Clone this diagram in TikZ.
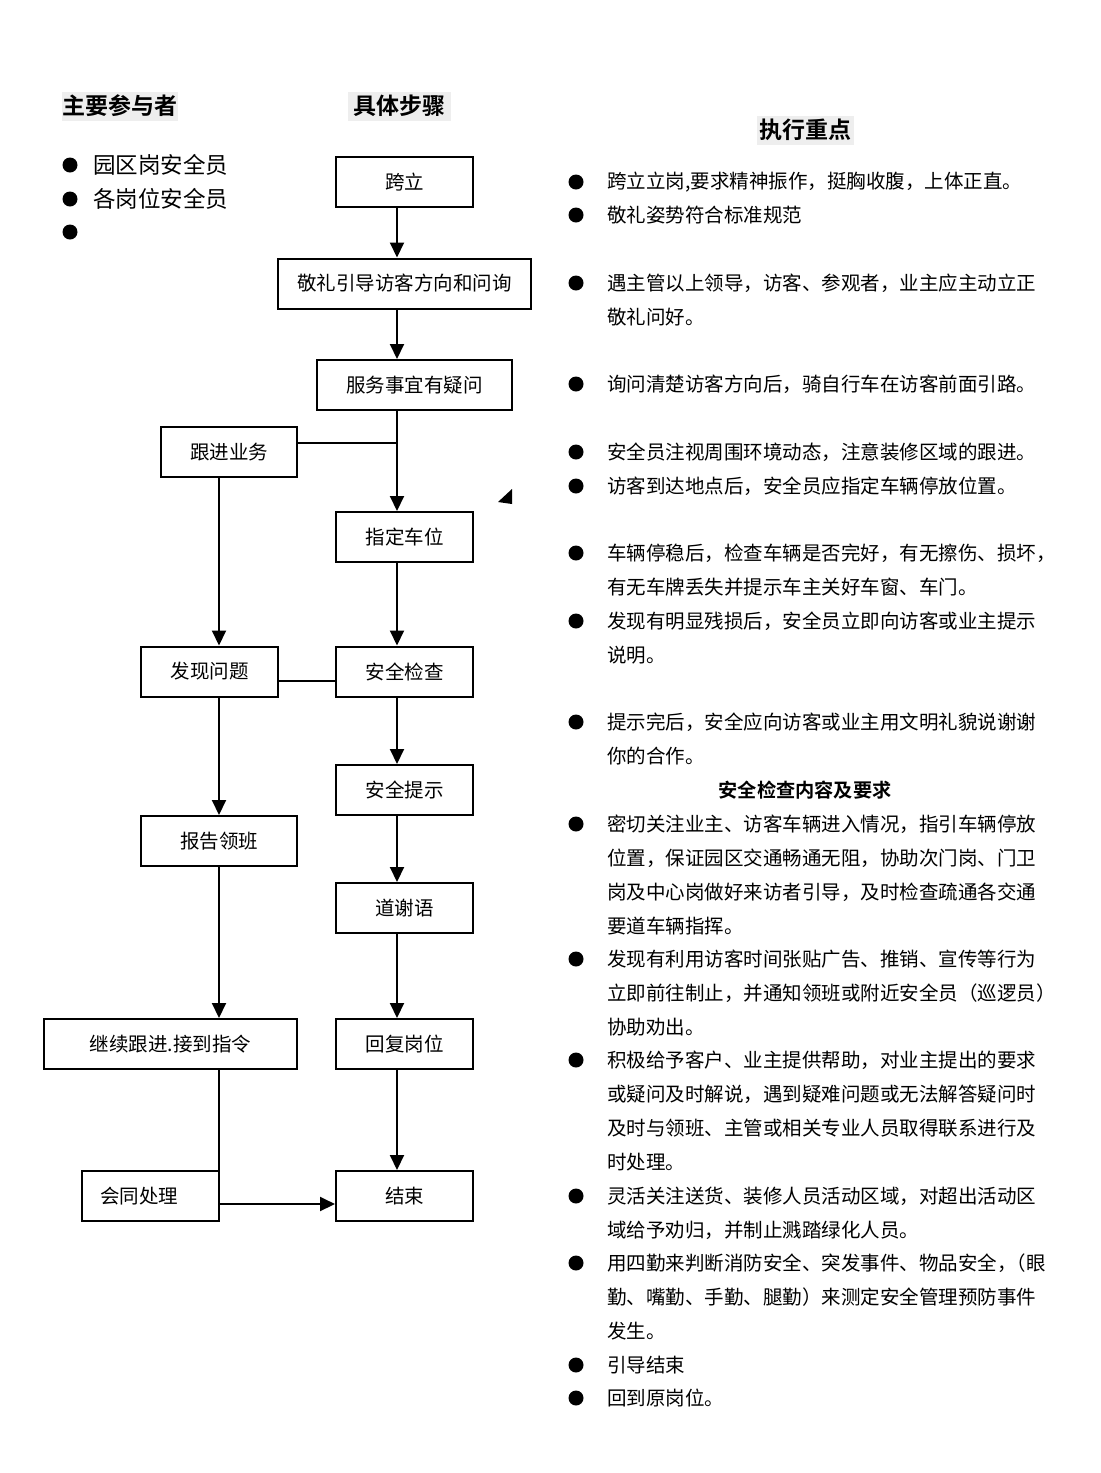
\documentclass[tikz,border=0pt]{standalone}
\usepackage{fontspec}
\newfontfamily\cjk{Noto Sans CJK SC}[BoldFont={Noto Sans CJK SC Bold}]
\usetikzlibrary{positioning}
\usetikzlibrary{arrows.meta}
\usetikzlibrary{math}

\tikzset{
  stepbox/.style={draw, line width=1pt, minimum height=25pt, minimum width=68.5pt,
    inner sep=0pt, font=\cjk\fontsize{9.75}{12}\selectfont},
  flow/.style={line width=1pt, -{Triangle[length=7.5pt,width=7pt]}},
  link/.style={line width=1pt},
  head/.style={fill=gray!13, inner sep=0pt, minimum height=14.5pt,
    font=\cjk\bfseries\fontsize{11.5}{14}\selectfont},
  note/.style={anchor=west, inner sep=0pt, font=\cjk\fontsize{9.75}{12}\selectfont},
  who/.style={anchor=west, inner sep=0pt, font=\cjk\fontsize{11.25}{14}\selectfont},
}

\begin{document}
\begin{tikzpicture}[x=0.5pt,y=-0.5pt]

  \tikzmath{
    \midx  = 397; % x of the main column of arrows
    \leftx = 219; % x of the left column of arrows
  }

  \useasboundingbox (0,0) rectangle (1100,1473);

  % column headers
  \node[head, minimum width=58pt]   (hwho)  at (120,106)   {主要参与者};
  \node[head, minimum width=51.5pt] (hstep) at (399.5,106) {具体步骤};
  \node[head, minimum width=48.5pt] (hkey)  at (805.5,130) {执行重点};

  % participants
  \foreach \y/\t in {165/园区岗安全员, 199/各岗位安全员, 232/{}} {
    \fill (70,\y) circle [radius=3.75pt];
    \node[who] (w\y) at (93,\y) {\t};
  }

  % steps, main column
  \node[stepbox]                      (kuali)   at (404.5,182)  {跨立};
  \node[stepbox, minimum width=126.5pt] (jingli) at (404.5,283.5) {敬礼引导访客方向和问询};
  \node[stepbox, minimum width=97.5pt] (fuwu)   at (414.5,385)  {服务事宜有疑问};
  \node[stepbox]                      (zhiding) at (404.5,537)  {指定车位};
  \node[stepbox]                      (jiancha) at (404.5,671.5) {安全检查};
  \node[stepbox]                      (tishi)   at (404.5,790)  {安全提示};
  \node[stepbox]                      (daoxie)  at (404.5,908)  {道谢语};
  \node[stepbox]                      (huifu)   at (404.5,1044) {回复岗位};
  \node[stepbox]                      (jieshu)  at (404.5,1196) {结束};

  % steps, side column
  \node[stepbox, minimum width=68pt]  (genjin)  at (229,452)    {跟进业务};
  \node[stepbox]                      (faxian)  at (209.5,671.5) {发现问题};
  \node[stepbox, minimum width=78pt]  (baogao)  at (219,841)    {报告领班};
  \node[stepbox, minimum width=126.5pt] (jixu)  at (170.5,1044) {继续跟进.接到指令};
  \node[stepbox, text width=50.5pt, inner xsep=9pt, align=left]
                                      (huitong) at (150.5,1196) {会同处理};

  % columns and junctions
  \coordinate (mid)  at (\midx,0);
  \coordinate (lft)  at (\leftx,0);
  \coordinate (jn)   at (\midx,443);
  \coordinate (chk)  at (0,681);
  \coordinate (fin)  at (0,1204);

  % main column arrows
  \draw[flow] (kuali.south -| mid)   -- (jingli.north -| mid);
  \draw[flow] (jingli.south -| mid)  -- (fuwu.north -| mid);
  \draw[flow] (fuwu.south -| mid)    -- (zhiding.north -| mid);
  \draw[flow] (zhiding.south -| mid) -- (jiancha.north -| mid);
  \draw[flow] (jiancha.south -| mid) -- (tishi.north -| mid);
  \draw[flow] (tishi.south -| mid)   -- (daoxie.north -| mid);
  \draw[flow] (daoxie.south -| mid)  -- (huifu.north -| mid);
  \draw[flow] (huifu.south -| mid)   -- (jieshu.north -| mid);

  % side column
  \draw[link] (genjin.east |- jn) -- (jn);
  \draw[flow] (genjin.south -| lft) -- (faxian.north -| lft);
  \draw[link] (faxian.east |- chk) -- (jiancha.west |- chk);
  \draw[flow] (faxian.south -| lft) -- (baogao.north -| lft);
  \draw[flow] (baogao.south -| lft) -- (jixu.north -| lft);
  \draw[link] (jixu.south -| lft)   -- (huitong.north -| lft);
  \draw[flow] (huitong.east |- fin) -- (jieshu.west |- fin);

  % loose arrow tip
  \fill (498,502) -- (512,489) -- (512,504) -- cycle;

  % key points
  \foreach \y in {182,215,283,384,452,486,553,621,722,824,959,1060,1196,1263,1365,1398}
    \fill (576,\y) circle [radius=3.75pt];

  \foreach \y/\t in {
      182/{跨立立岗,要求精神振作，挺胸收腹，上体正直。},
      215/{敬礼姿势符合标准规范},
      283/{遇主管以上领导，访客、参观者，业主应主动立正},
      317/{敬礼问好。},
      384/{询问清楚访客方向后，骑自行车在访客前面引路。},
      452/{安全员注视周围环境动态，注意装修区域的跟进。},
      486/{访客到达地点后，安全员应指定车辆停放位置。},
      553/{车辆停稳后，检查车辆是否完好，有无擦伤、损坏，},
      587/{有无车牌丢失并提示车主关好车窗、车门。},
      621/{发现有明显残损后，安全员立即向访客或业主提示},
      655/{说明。},
      722/{提示完后，安全应向访客或业主用文明礼貌说谢谢},
      756/{你的合作。},
      824/{密切关注业主、访客车辆进入情况，指引车辆停放},
      858/{位置，保证园区交通畅通无阻，协助次门岗、门卫},
      892/{岗及中心岗做好来访者引导，及时检查疏通各交通},
      926/{要道车辆指挥。},
      959/{发现有利用访客时间张贴广告、推销、宣传等行为},
      993/{立即前往制止，并通知领班或附近安全员（巡逻员）},
      1027/{协助劝出。},
      1060/{积极给予客户、业主提供帮助，对业主提出的要求},
      1094/{或疑问及时解说，遇到疑难问题或无法解答疑问时},
      1128/{及时与领班、主管或相关专业人员取得联系进行及},
      1162/{时处理。},
      1196/{灵活关注送货、装修人员活动区域，对超出活动区},
      1230/{域给予劝归，并制止溅踏绿化人员。},
      1263/{用四勤来判断消防安全、突发事件、物品安全，\kern-5pt（眼},
      1297/{勤、嘴勤、手勤、腿勤）来测定安全管理预防事件},
      1331/{发生。},
      1365/{引导结束},
      1398/{回到原岗位。}}
    \node[note] (k\y) at (607,\y) {\t};

  % sub header
  \node[note, anchor=center, font=\cjk\bfseries\fontsize{9.6}{12}\selectfont]
    (hcheck) at (805,790) {安全检查内容及要求};

\end{tikzpicture}
\end{document}
